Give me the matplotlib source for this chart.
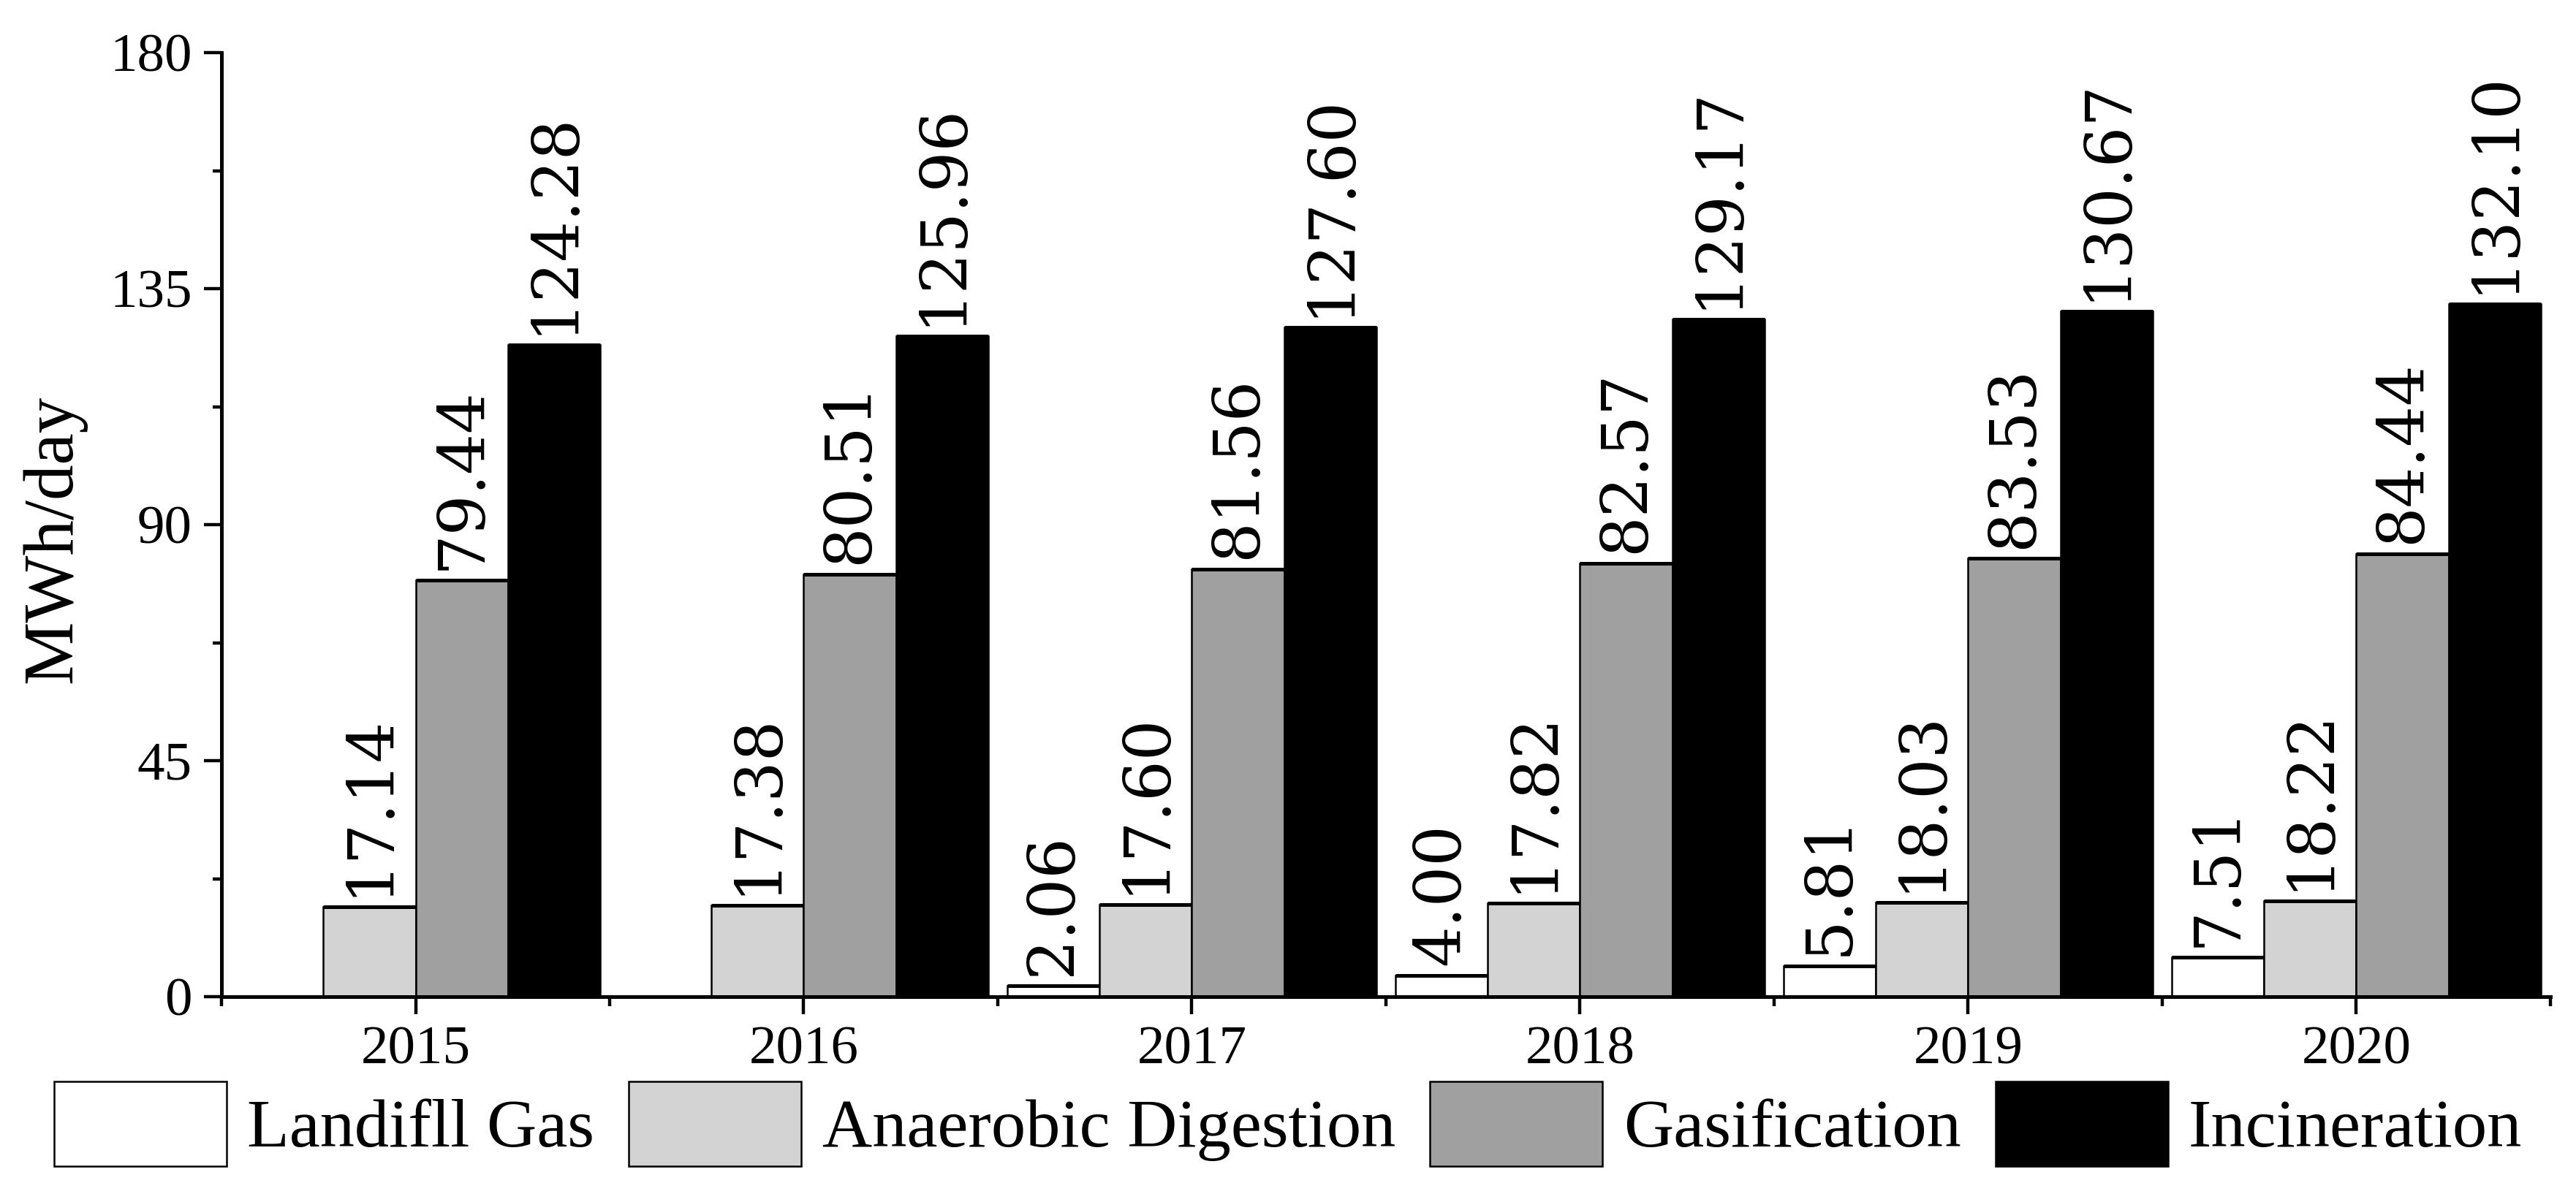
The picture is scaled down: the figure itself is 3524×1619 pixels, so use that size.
import matplotlib
matplotlib.use("Agg")
import matplotlib.pyplot as plt
import numpy as np
from matplotlib.ticker import MultipleLocator

# data
years = ["2015", "2016", "2017", "2018", "2019", "2020"]
landfill = [0.0, 0.0, 2.06, 4.00, 5.81, 7.51]
anaerobic = [17.14, 17.38, 17.60, 17.82, 18.03, 18.22]
gasification = [79.44, 80.51, 81.56, 82.57, 83.53, 84.44]
incineration = [124.28, 125.96, 127.60, 129.17, 130.67, 132.10]

names = ["Landifll Gas", "Anaerobic Digestion", "Gasification", "Incineration"]
colors = ["#FFFFFF", "#D3D3D3", "#A0A0A0", "#000000"]
series = [landfill, anaerobic, gasification, incineration]

plt.rcParams['font.family'] = ['Liberation Serif', 'DejaVu Serif']

fig = plt.figure(figsize=(17.62, 8.095), dpi=200)
ax = fig.add_axes([0.086, 0.1575, 0.904, 0.798])

x = np.arange(len(years))
w = 0.238
offsets = [-1.5 * w, -0.5 * w, 0.5 * w, 1.5 * w]

for vals, name, col, off in zip(series, names, colors, offsets):
    bars = ax.bar(x + off, vals, w, color=col, edgecolor="black",
                  linewidth=0.9, label=name)
    for b, v in zip(bars, vals):
        if v > 0:
            # top edge is drawn heavier in the original
            ax.hlines(v, b.get_x(), b.get_x() + b.get_width(),
                      color="black", linewidth=1.8)
            ax.annotate("%.2f" % v, (b.get_x() + b.get_width() / 2, v),
                        xytext=(0, 5), textcoords="offset points",
                        rotation=90, ha="center", va="bottom",
                        fontsize=31.5, family=['DejaVu Serif'])

ax.set_xlim(-0.5, 5.5)
ax.set_ylim(0, 180)
ax.set_yticks([0, 45, 90, 135, 180])
ax.yaxis.set_minor_locator(MultipleLocator(22.5))
ax.set_xticks(x)
ax.set_xticklabels(years)
ax.set_xticks(np.arange(-0.5, 6.0, 1.0), minor=True)

for s in ["top", "right"]:
    ax.spines[s].set_visible(False)
ax.spines["left"].set_linewidth(1.8)
ax.spines["bottom"].set_linewidth(1.8)

ax.tick_params(axis="both", which="major", direction="out", length=8.5,
               width=1.6, labelsize=27, pad=6)
ax.tick_params(axis="both", which="minor", direction="out", length=4.5,
               width=1.6)

ax.set_ylabel("MWh/day", fontsize=35)
ax.yaxis.set_label_coords(-0.058, 0.485)

fig.legend(loc="center", bbox_to_anchor=(0.5, 0.050), ncol=4, frameon=False,
           fontsize=34, handlelength=2.5, handleheight=1.5,
           handletextpad=0.3, columnspacing=0.5, borderpad=0.1)

fig.savefig("out.png", dpi=200)
